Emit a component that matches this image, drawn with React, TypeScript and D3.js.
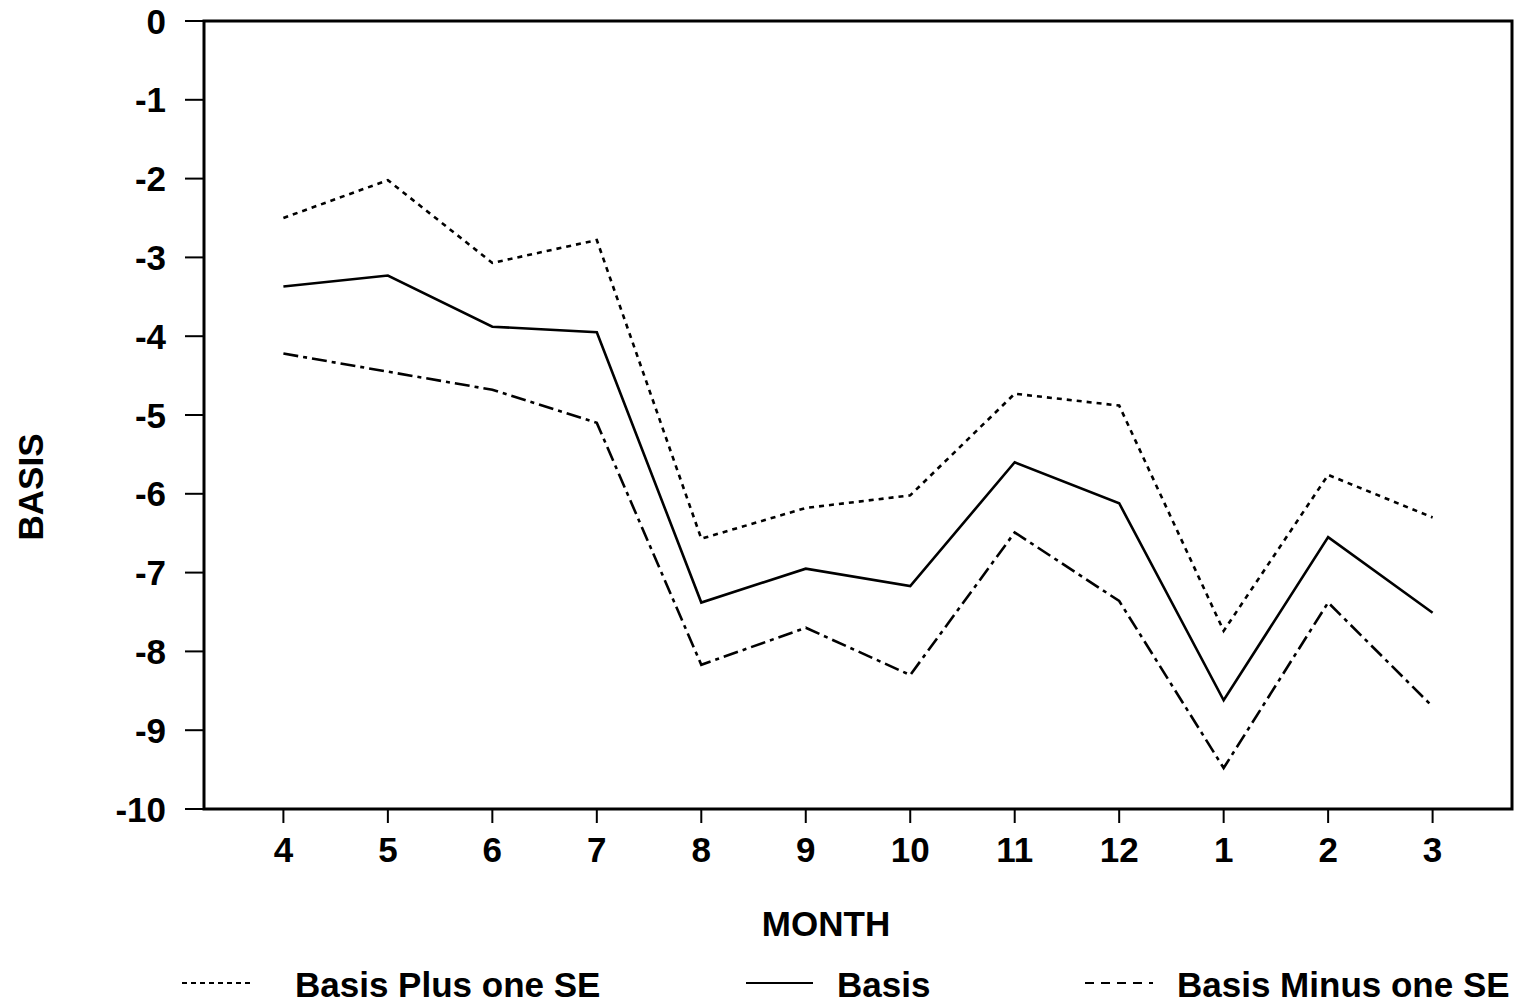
import React from "react";
import * as d3 from "d3";

const months = ["4", "5", "6", "7", "8", "9", "10", "11", "12", "1", "2", "3"];
const plusSE = [-2.5, -2.02, -3.07, -2.78, -6.57, -6.18, -6.02, -4.73, -4.88, -7.74, -5.76, -6.3];
const basis = [-3.37, -3.23, -3.88, -3.95, -7.38, -6.95, -7.17, -5.6, -6.12, -8.62, -6.55, -7.51];
const minusSE = [-4.22, -4.45, -4.68, -5.1, -8.17, -7.7, -8.3, -6.49, -7.36, -9.48, -7.38, -8.7];
const yTicks = [0, -1, -2, -3, -4, -5, -6, -7, -8, -9, -10];

const W = 1520;
const H = 1003;
const left = 204;
const right = 1512;
const top = 21;
const bottom = 809;
const FONT = "'Liberation Sans', Arial, Helvetica, sans-serif";

export default function App() {
  const x = d3.scalePoint<string>().domain(months).range([left, right]).padding(0.76);
  const y = d3.scaleLinear().domain([0, -10]).range([top, bottom]);
  const line = d3
    .line<number>()
    .x((_, i) => x(months[i]) as number)
    .y((d) => y(d));

  const series = [
    { name: "Basis Plus one SE", data: plusSE, dash: "5,5", legendDash: "5,4" },
    { name: "Basis", data: basis, dash: "none", legendDash: "none" },
    { name: "Basis Minus one SE", data: minusSE, dash: "15,5,4,5", legendDash: "9,7" },
  ];
  const legendPos = [
    { x1: 182, x2: 250, tx: 295 },
    { x1: 746, x2: 813, tx: 837 },
    { x1: 1085, x2: 1153, tx: 1177 },
  ];

  return (
    <div style={{ position: "absolute", left: 0, top: 0 }}>
      <svg width={W} height={H} style={{ display: "block", background: "#fff" }} fontFamily={FONT}>
        <rect x={0} y={0} width={W} height={H} fill="#fff" />
        <rect x={left} y={top} width={right - left} height={bottom - top} fill="none" stroke="#000" strokeWidth={3} />
        {yTicks.map((t) => (
          <g key={t}>
            <line x1={185} x2={left} y1={y(t)} y2={y(t)} stroke="#000" strokeWidth={2} />
            <text x={166} y={y(t)} dy="0.36em" textAnchor="end" fontSize={35} fontWeight="bold">
              {t}
            </text>
          </g>
        ))}
        {months.map((m) => (
          <g key={m}>
            <line x1={x(m)} x2={x(m)} y1={bottom} y2={823} stroke="#000" strokeWidth={2} />
            <text x={x(m)} y={862} textAnchor="middle" fontSize={35} fontWeight="bold">
              {m}
            </text>
          </g>
        ))}
        <text x={826} y={936} textAnchor="middle" fontSize={35} fontWeight="bold">
          MONTH
        </text>
        <text transform={`translate(43,487) rotate(-90)`} textAnchor="middle" fontSize={35} fontWeight="bold">
          BASIS
        </text>
        {series.map((s) => (
          <path
            key={s.name}
            d={line(s.data) as string}
            fill="none"
            stroke="#000"
            strokeWidth={2.6}
            strokeDasharray={s.dash}
            strokeLinejoin="miter"
          />
        ))}
        {series.map((s, i) => (
          <g key={s.name}>
            <line
              x1={legendPos[i].x1}
              x2={legendPos[i].x2}
              y1={983}
              y2={983}
              stroke="#000"
              strokeWidth={2}
              strokeDasharray={s.legendDash}
            />
            <text x={legendPos[i].tx} y={997} fontSize={35} fontWeight="bold">
              {s.name}
            </text>
          </g>
        ))}
      </svg>
    </div>
  );
}
